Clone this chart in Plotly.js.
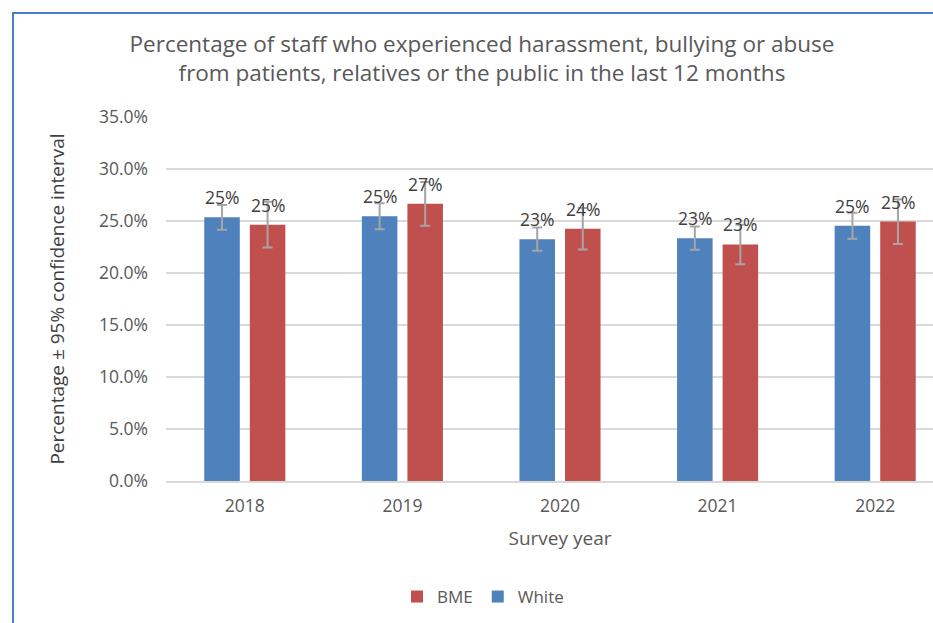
<!DOCTYPE html>
<html>
<head>
<meta charset="utf-8">
<script src="https://cdn.plot.ly/plotly-3.0.1.min.js"></script>
<style>
  html, body { margin: 0; padding: 0; background: #ffffff; overflow: hidden; width: 933px; height: 623px; }
  #frame { position: absolute; left: 12px; top: 12px; width: 950px; height: 640px; border: 2px solid #4A7EC4; background: #ffffff; }
  #chart { position: absolute; left: 0; top: 0; width: 950px; height: 620px; }
</style>
</head>
<body>
<div id="frame"><div id="chart"></div></div>
<script>
// ---- data ----
const years = ["2018", "2019", "2020", "2021", "2022"];
const whiteValues = [0.2535, 0.2545, 0.2325, 0.2335, 0.2455];
const whiteErrors = [0.0120, 0.0125, 0.0112, 0.0112, 0.0125];
const bmeValues   = [0.2465, 0.2665, 0.2425, 0.2275, 0.2495];
const bmeErrors   = [0.0220, 0.0210, 0.0200, 0.0190, 0.0215];
const yTickValues = [0, 0.05, 0.10, 0.15, 0.20, 0.25, 0.30, 0.35];

const FONT = "Open Sans, Noto Sans, sans-serif";
const errStyle = { type: 'data', visible: true, color: '#A5A5A5', thickness: 2, width: 5 };

const white = {
  type: 'bar', name: 'White', x: years, y: whiteValues,
  marker: { color: '#4F81BD' },
  error_y: Object.assign({ array: whiteErrors }, errStyle),
  hoverinfo: 'skip'
};
const bme = {
  type: 'bar', name: 'BME', x: years, y: bmeValues,
  marker: { color: '#C0504D' },
  error_y: Object.assign({ array: bmeErrors }, errStyle),
  hoverinfo: 'skip'
};

// data labels, placed at each bar's value through the axes (category index)
const SLOT_HALF = 22.75;
const labelFont = { family: FONT, size: 17.5, color: '#404040' };
const annotations = [];
years.forEach((yr, i) => {
  annotations.push({ x: i, y: whiteValues[i], xref: 'x', yref: 'y', xshift: -SLOT_HALF, yshift: 20,
    text: Math.round(whiteValues[i] * 100) + '%', showarrow: false, yanchor: 'middle', font: labelFont });
  annotations.push({ x: i, y: bmeValues[i], xref: 'x', yref: 'y', xshift: SLOT_HALF, yshift: 20,
    text: Math.round(bmeValues[i] * 100) + '%', showarrow: false, yanchor: 'middle', font: labelFont });
});

const layout = {
  width: 950, height: 620,
  margin: { l: 152, r: 10, t: 103, b: 153 },
  paper_bgcolor: '#ffffff', plot_bgcolor: '#ffffff',
  font: { family: FONT, color: '#595959' },
  title: {
    text: 'Percentage of staff who experienced harassment, bullying or abuse<br>from patients, relatives or the public in the last 12 months',
    xref: 'container', x: 0.4926, xanchor: 'center',
    yref: 'container', y: 0.9387, yanchor: 'middle',
    font: { family: FONT, size: 22.5, color: '#595959' }
  },
  barmode: 'group', bargap: 0.422, bargroupgap: 0.22,
  xaxis: {
    type: 'category', range: [-0.5, 4.5],
    showgrid: false, showline: true, linecolor: '#D9D9D9', linewidth: 1.5,
    ticks: '', ticklabelstandoff: 8,
    tickfont: { family: FONT, size: 17.5, color: '#595959' },
    title: { text: 'Survey year', standoff: 16, font: { family: FONT, size: 19, color: '#595959' } }
  },
  yaxis: {
    range: [0, 0.35], tickvals: yTickValues, tickformat: '.1%',
    showgrid: true, gridcolor: '#D9D9D9', gridwidth: 1.5,
    zeroline: false, showline: false, ticks: '', ticklabelstandoff: 17,
    tickfont: { family: FONT, size: 17.5, color: '#595959' },
    title: { text: 'Percentage ± 95% confidence interval', standoff: 29, font: { family: FONT, size: 19, color: '#404040' } }
  },
  showlegend: true,
  legend: {
    orientation: 'h', traceorder: 'reversed', itemwidth: 30,
    xref: 'container', x: 0.4937, xanchor: 'center',
    yref: 'container', y: 0.0597, yanchor: 'middle',
    font: { family: FONT, size: 17, color: '#595959' }
  },
  annotations: annotations
};

Plotly.newPlot('chart', [white, bme], layout, { displayModeBar: false, staticPlot: true });
</script>
</body>
</html>
